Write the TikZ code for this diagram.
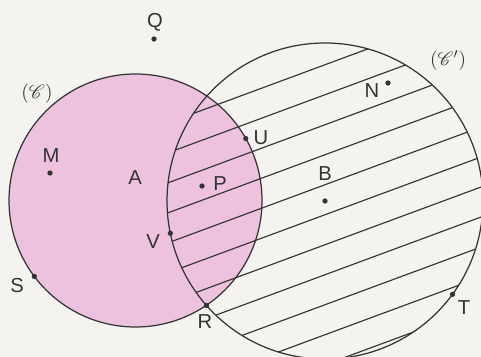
\documentclass[tikz,border=0pt]{standalone}
\usepackage{tikz}
\usetikzlibrary{calc}
\usepackage{xcolor}
\usepackage{amsmath}
\usepackage{mathrsfs}
\usepackage{fontspec}
\setmainfont{Liberation Sans}
\definecolor{paper}{HTML}{F4F3EF}
\definecolor{rose}{HTML}{EDC2DF}
\definecolor{ink}{HTML}{333333}

\begin{document}
\begin{tikzpicture}[
  dot/.style={circle, fill=ink, inner sep=0pt, minimum size=3pt},
  lbl/.style={inner sep=0pt, text=ink, font=\fontsize{11.5}{13}\selectfont},
  cname/.style={inner sep=0pt, text=ink, font=\fontsize{11}{13}\selectfont},
  circ/.style={draw=ink, line width=0.7pt},
  hatch/.style={draw=ink, line width=0.65pt},
]

\clip (0,0) rectangle (9.62,7.14);
\fill[paper] (0,0) rectangle (9.62,7.14);

% centres
\node[dot] (A) at (2.71,3.13) {};
\node[dot] (B) at (6.50,3.12) {};

% (C) filled, (C') hatched
\fill[rose] (A.center) circle (2.53);
\begin{scope}
  \clip (B.center) circle (3.16);
  \draw[hatch] (2.5,4.365) -- (10,7.14);
  \draw[hatch] (2.5,3.765) -- (10,6.54);
  \draw[hatch] (2.5,3.165) -- (10,5.94);
  \draw[hatch] (2.5,2.565) -- (10,5.34);
  \draw[hatch] (2.5,1.965) -- (10,4.74);
  \draw[hatch] (2.5,1.365) -- (10,4.14);
  \draw[hatch] (2.5,0.765) -- (10,3.54);
  \draw[hatch] (2.5,0.165) -- (10,2.94);
  \draw[hatch] (2.5,-0.435) -- (10,2.34);
  \draw[hatch] (2.5,-1.035) -- (10,1.74);
  \draw[hatch] (2.5,-1.635) -- (10,1.14);
\end{scope}
\draw[circ] (A.center) circle (2.53);
\draw[circ] (B.center) circle (3.16);

% points
\node[dot] (Q) at (3.08,6.36) {};
\node[dot] (M) at (1.00,3.68) {};
\node[dot] (P) at (4.04,3.42) {};
\node[dot] (N) at (7.76,5.48) {};
\node[dot] (U) at ($(A.center)+(29.3:2.53)$) {};
\node[dot] (S) at ($(A.center)+(216.9:2.53)$) {};
\node[dot] (V) at ($(B.center)+(191.8:3.16)$) {};
\node[dot] (T) at ($(B.center)+(-36.2:3.16)$) {};
\node[dot] (R) at (4.13,1.03) {};

% labels
\node[lbl] (lQ) at (3.10,6.70) {Q};
\node[lbl] (lM) at (1.02,4.02) {M};
\node[lbl] (lA) at (2.70,3.58) {A};
\node[lbl] (lP) at (4.40,3.46) {P};
\node[lbl] (lU) at (5.22,4.38) {U};
\node[lbl] (lB) at (6.50,3.66) {B};
\node[lbl] (lN) at (7.44,5.32) {N};
\node[lbl] (lV) at (3.06,2.30) {V};
\node[lbl] (lS) at (0.34,1.42) {S};
\node[lbl] (lR) at (4.10,0.70) {R};
\node[lbl] (lT) at (9.28,0.98) {T};
\node[cname] (lC) at (0.74,5.26) {$(\mathscr{C})$};
\node[cname] (lCp) at (8.96,5.92) {$(\mathscr{C}')$};

\end{tikzpicture}
\end{document}
